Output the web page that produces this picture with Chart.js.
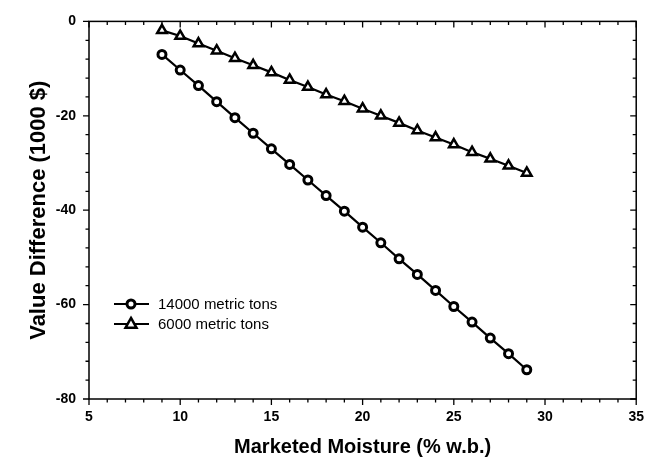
<!DOCTYPE html>
<html>
<head>
<meta charset="utf-8">
<script src="https://cdn.jsdelivr.net/npm/chart.js@4/dist/chart.umd.min.js"></script>
<style>
  html, body { margin: 0; padding: 0; background: #fff; }
  #wrap { width: 654px; height: 463px; }
</style>
</head>
<body>
<div id="wrap"><canvas id="moisture_chart" width="654" height="463"></canvas></div>
<script>
// values
var moisture = [9, 10, 11, 12, 13, 14, 15, 16, 17, 18, 19, 20, 21, 22, 23, 24, 25, 26, 27, 28, 29];
var tons14000 = [-7.0, -10.3, -13.6, -17.0, -20.4, -23.7, -27.0, -30.3, -33.6, -36.9, -40.2,
                 -43.6, -46.9, -50.3, -53.6, -57.0, -60.4, -63.7, -67.1, -70.4, -73.8];
var tons6000 = [-1.9, -3.1, -4.7, -6.2, -7.8, -9.3, -10.8, -12.4, -13.9, -15.5, -16.9,
                -18.5, -20.0, -21.5, -23.1, -24.6, -26.1, -27.7, -29.1, -30.6, -32.1];
var seriesNames = ["14000 metric tons", "6000 metric tons"];
var xTicks = [5, 10, 15, 20, 25, 30, 35];
var yTicks = [0, -20, -40, -60, -80];
var xMinorStep = 1;
var yMinorStep = 4;

var FONT = "'Liberation Sans', Arial, sans-serif";

function toPoints(xs, ys) {
    return xs.map(function (x, i) { return { x: x, y: ys[i] }; });
}

function marker(ctx, style, x, y, r) {
    ctx.beginPath();
    if (style === 'triangle') {
        ctx.moveTo(x, y - r * 1.1);
        ctx.lineTo(x + r, y + r * 0.7);
        ctx.lineTo(x - r, y + r * 0.7);
        ctx.closePath();
    } else {
        ctx.arc(x, y, r, 0, Math.PI * 2);
    }
    ctx.fill();
    ctx.stroke();
}

// frame with minor/major ticks: out on left/bottom, in on top/right
var frameTicks = {
    id: 'frameTicks',
    afterDraw: function (chart) {
        var ctx = chart.ctx, a = chart.chartArea, sx = chart.scales.x, sy = chart.scales.y;
        ctx.save();
        ctx.strokeStyle = '#000';
        ctx.lineWidth = 1.5;
        ctx.strokeRect(a.left, a.top, a.right - a.left, a.bottom - a.top);
        ctx.lineWidth = 1.3;
        ctx.beginPath();
        for (var v = sx.min; v <= sx.max + 1e-6; v += xMinorStep) {
            var px = sx.getPixelForValue(v);
            var len = xTicks.indexOf(v) >= 0 ? 6 : 3.5;
            ctx.moveTo(px, a.bottom); ctx.lineTo(px, a.bottom + len);
            ctx.moveTo(px, a.top); ctx.lineTo(px, a.top + len);
        }
        for (var w = sy.max; w >= sy.min - 1e-6; w -= yMinorStep) {
            var py = sy.getPixelForValue(w);
            var l2 = yTicks.indexOf(w) >= 0 ? 6 : 3.5;
            ctx.moveTo(a.left, py); ctx.lineTo(a.left - l2, py);
            ctx.moveTo(a.right, py); ctx.lineTo(a.right - l2, py);
        }
        ctx.stroke();
        ctx.restore();
    }
};

// legend drawn inside the plot, lower left
var innerLegend = {
    id: 'innerLegend',
    afterDraw: function (chart) {
        var ctx = chart.ctx;
        ctx.save();
        chart.data.datasets.forEach(function (ds, i) {
            var y = 304 + i * 20;
            ctx.strokeStyle = '#000';
            ctx.lineWidth = 1.8;
            ctx.beginPath();
            ctx.moveTo(114, y); ctx.lineTo(149, y);
            ctx.stroke();
            ctx.fillStyle = '#fff';
            ctx.lineWidth = ds.pointBorderWidth;
            marker(ctx, ds.pointStyle, 131, y, ds.pointRadius);
            ctx.fillStyle = '#000';
            ctx.font = '15px ' + FONT;
            ctx.textBaseline = 'middle';
            ctx.fillText(ds.label, 158, y + 1);
        });
        ctx.restore();
    }
};

new Chart(document.getElementById("moisture_chart").getContext("2d"), {
    type: 'scatter',
    data: {
        datasets: [{
            label: seriesNames[0],
            data: toPoints(moisture, tons14000),
            showLine: true,
            borderColor: '#000',
            borderWidth: 2.2,
            pointStyle: 'circle',
            pointRadius: 4,
            pointBorderWidth: 3,
            pointBackgroundColor: '#fff',
            pointBorderColor: '#000'
        }, {
            label: seriesNames[1],
            data: toPoints(moisture, tons6000),
            showLine: true,
            borderColor: '#000',
            borderWidth: 2.2,
            pointStyle: 'triangle',
            pointRadius: 5.5,
            pointBorderWidth: 2.5,
            pointBackgroundColor: '#fff',
            pointBorderColor: '#000'
        }]
    },
    options: {
        responsive: false,
        animation: false,
        devicePixelRatio: 1,
        layout: { padding: { top: 18, right: 15, left: 0, bottom: 0 } },
        plugins: { legend: { display: false }, tooltip: { enabled: false } },
        scales: {
            x: {
                type: 'linear',
                min: 5,
                max: 35,
                afterFit: function (s) { s.height = 64; },
                afterBuildTicks: function (s) { s.ticks = xTicks.map(function (v) { return { value: v }; }); },
                grid: { display: false, drawTicks: false },
                border: { display: false },
                ticks: { color: '#000', padding: 10, font: { family: FONT, size: 14, weight: 'bold' } },
                title: {
                    display: true,
                    text: 'Marketed Moisture (% w.b.)',
                    color: '#000',
                    padding: { top: 0, bottom: 4 },
                    font: { family: FONT, size: 20, weight: 'bold' }
                }
            },
            y: {
                type: 'linear',
                min: -80,
                max: 0,
                afterFit: function (s) { s.width = 89; },
                afterBuildTicks: function (s) { s.ticks = yTicks.map(function (v) { return { value: v }; }); },
                grid: { display: false, drawTicks: false },
                border: { display: false },
                ticks: { color: '#000', padding: 13, font: { family: FONT, size: 14, weight: 'bold' } },
                title: {
                    display: true,
                    text: 'Value Difference (1000 $)',
                    color: '#000',
                    padding: { top: 26, bottom: 0 },
                    font: { family: FONT, size: 22, weight: 'bold' }
                }
            }
        }
    },
    plugins: [frameTicks, innerLegend]
});
</script>
</body>
</html>
